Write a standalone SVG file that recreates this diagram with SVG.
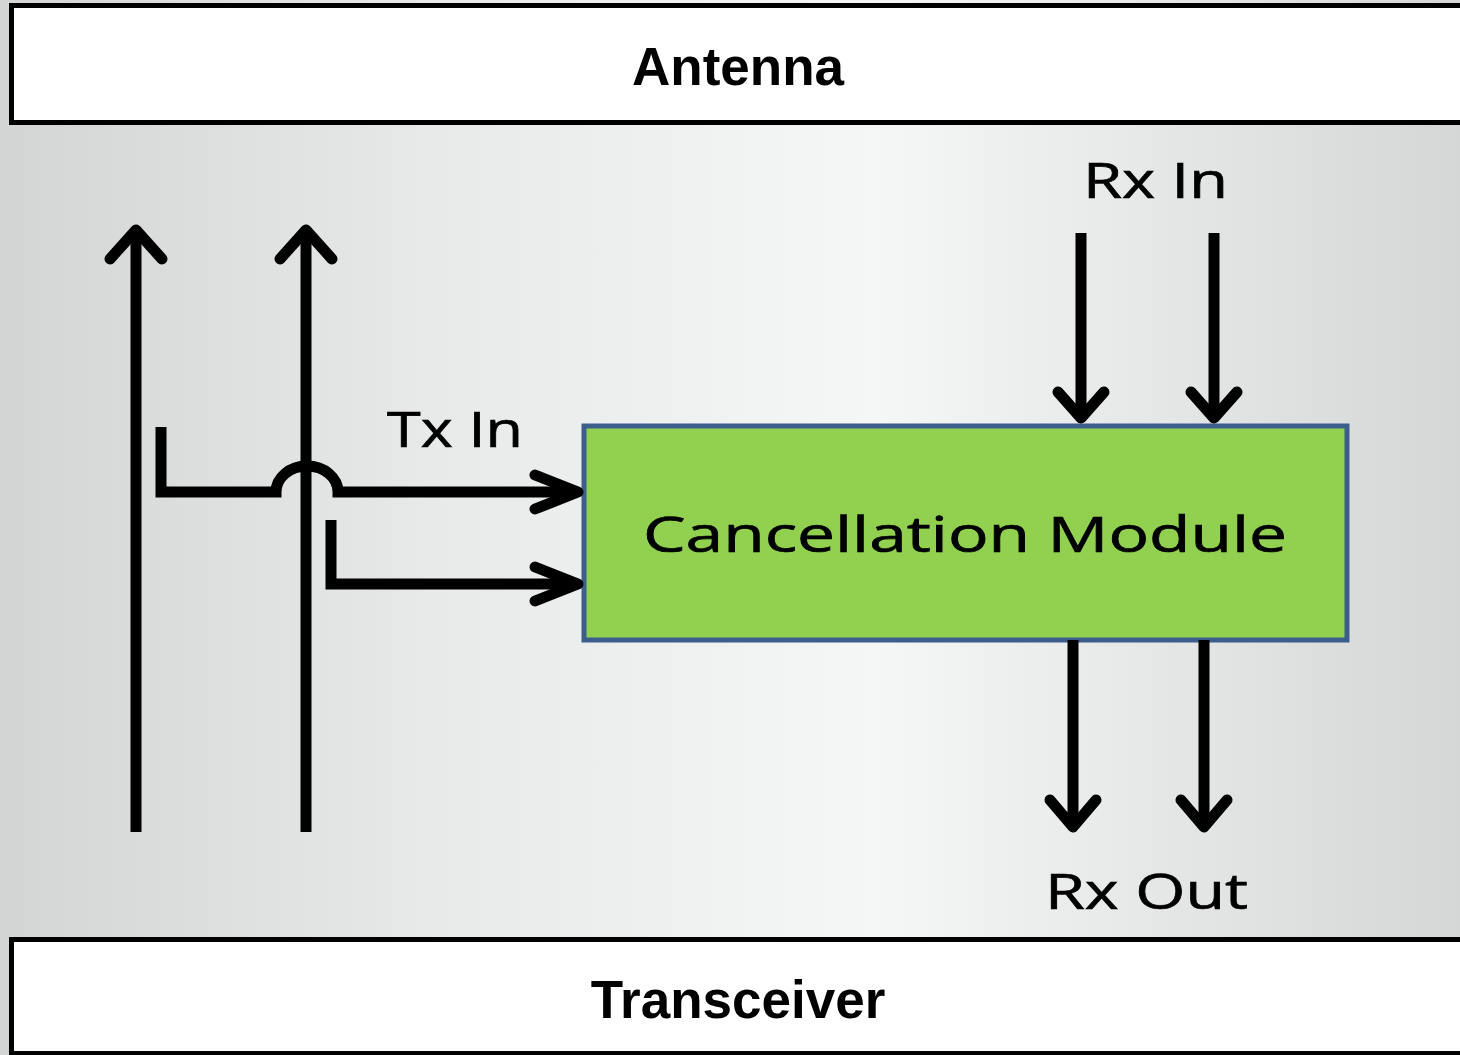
<svg xmlns="http://www.w3.org/2000/svg" width="1460" height="1055" viewBox="0 0 1460 1055">
  <defs>
    <linearGradient id="bg" x1="0" y1="0" x2="1" y2="0">
      <stop offset="0" stop-color="#d3d4d4"/>
      <stop offset="0.3" stop-color="#e8eaea"/>
      <stop offset="0.6" stop-color="#f5f6f6"/>
      <stop offset="1" stop-color="#d5d6d6"/>
    </linearGradient>
    <style>
      .bar { fill: #ffffff; stroke: #000000; stroke-width: 5; }
      .bold { font-family: "Liberation Sans", Arial, sans-serif; font-weight: bold; font-size: 53px; fill: #000; text-anchor: middle; }
      .lbl { font-family: "Open Sans", "Noto Sans", sans-serif; font-size: 50px; fill: #000; stroke: #000; stroke-width: 0.7; }
      .wire { fill: none; stroke: #000; stroke-width: 11; stroke-linejoin: miter; }
      .head { fill: none; stroke: #000; stroke-width: 11; stroke-linecap: round; stroke-linejoin: round; }
    </style>
  </defs>
  <rect x="0" y="0" width="1460" height="1055" fill="url(#bg)"/>

  <g id="antenna">
    <rect class="bar" x="11.5" y="5.5" width="1460" height="117"/>
    <text class="bold" x="738" y="85">Antenna</text>
  </g>

  <g id="transceiver">
    <rect class="bar" x="11.5" y="939.5" width="1460" height="114"/>
    <text class="bold" x="738" y="1018">Transceiver</text>
  </g>

  <g id="cancellation-module">
    <rect x="584" y="426" width="763" height="214" fill="#92d050" stroke="#3b5e8c" stroke-width="5"/>
    <text class="lbl" x="643" y="552" font-size="55" textLength="644" lengthAdjust="spacingAndGlyphs">Cancellation Module</text>
  </g>

  <g id="labels">
    <text class="lbl" x="1083" y="198" textLength="145" lengthAdjust="spacingAndGlyphs">Rx In</text>
    <text class="lbl" x="387" y="447" font-size="49" textLength="136" lengthAdjust="spacingAndGlyphs">Tx In</text>
    <text class="lbl" x="1045" y="909" font-size="48" textLength="203" lengthAdjust="spacingAndGlyphs">Rx Out</text>
  </g>

  <g id="connectors">
    <!-- Tx up arrows -->
    <line class="wire" x1="136" y1="832" x2="136" y2="231"/>
    <polyline class="head" points="110,259 136,230 162,259"/>
    <line class="wire" x1="306" y1="832" x2="306" y2="231"/>
    <polyline class="head" points="280,259 306,230 332,259"/>

    <!-- Tx In taps -->
    <path class="wire" d="M161,427 L161,492 L276,492 A31,26 0 0 1 338,492 L578,492"/>
    <polyline class="head" points="535,475 578,492 535,509"/>
    <path class="wire" d="M331,520 L331,584 L578,584"/>
    <polyline class="head" points="535,567 578,584 535,601"/>

    <!-- Rx In arrows -->
    <line class="wire" x1="1081" y1="233" x2="1081" y2="417"/>
    <polyline class="head" points="1058,392 1081,418 1104,392"/>
    <line class="wire" x1="1214" y1="233" x2="1214" y2="417"/>
    <polyline class="head" points="1191,392 1214,418 1237,392"/>

    <!-- Rx Out arrows -->
    <line class="wire" x1="1073" y1="640" x2="1073" y2="826"/>
    <polyline class="head" points="1050,800 1073,827 1096,800"/>
    <line class="wire" x1="1204" y1="640" x2="1204" y2="826"/>
    <polyline class="head" points="1181,800 1204,827 1227,800"/>
  </g>
</svg>
